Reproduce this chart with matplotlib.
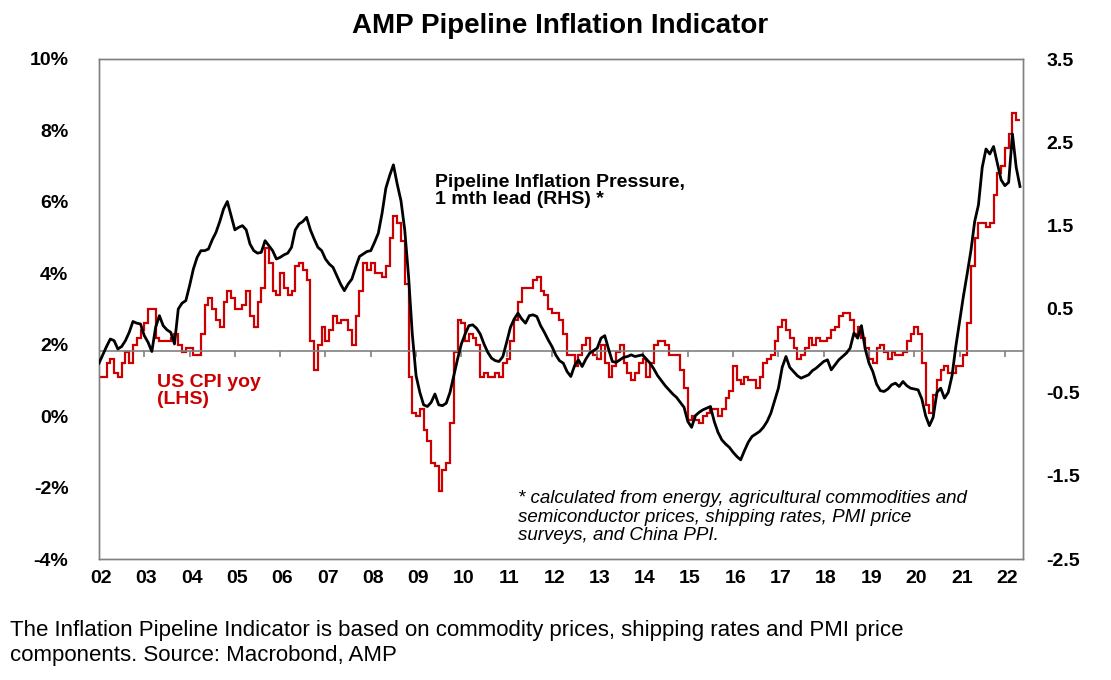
import matplotlib
matplotlib.use("Agg")
import matplotlib.pyplot as plt
import numpy as np

plt.rcParams['font.family'] = ['Liberation Sans', 'DejaVu Sans']

# ---------------- data ----------------
start_year = 2002
year_labels = ["02", "03", "04", "05", "06", "07", "08", "09", "10", "11", "12",
               "13", "14", "15", "16", "17", "18", "19", "20", "21", "22"]
left_ticks = [-4, -2, 0, 2, 4, 6, 8, 10]
left_tick_labels = ["-4%", "-2%", "0%", "2%", "4%", "6%", "8%", "10%"]
right_ticks = [-2.5, -1.5, -0.5, 0.5, 1.5, 2.5, 3.5]
right_tick_labels = ["-2.5", "-1.5", "-0.5", "0.5", "1.5", "2.5", "3.5"]

# US CPI yoy (%), monthly Jan 2002 - Apr 2022 (LHS)
us_cpi_yoy = [
    1.1, 1.1, 1.5, 1.6, 1.2, 1.1, 1.5, 1.8, 1.5, 2.0, 2.2, 2.4,   # 2002
    2.6, 3.0, 3.0, 2.2, 2.1, 2.1, 2.1, 2.2, 2.3, 2.0, 1.8, 1.9,   # 2003
    1.9, 1.7, 1.7, 2.3, 3.1, 3.3, 3.0, 2.7, 2.5, 3.2, 3.5, 3.3,   # 2004
    3.0, 3.0, 3.1, 3.5, 2.8, 2.5, 3.2, 3.6, 4.7, 4.3, 3.5, 3.4,   # 2005
    4.0, 3.6, 3.4, 3.5, 4.2, 4.3, 4.1, 3.8, 2.1, 1.3, 2.0, 2.5,   # 2006
    2.1, 2.4, 2.8, 2.6, 2.7, 2.7, 2.4, 2.0, 2.8, 3.5, 4.3, 4.1,   # 2007
    4.3, 4.0, 4.0, 3.9, 4.2, 5.0, 5.6, 5.4, 4.9, 3.7, 1.1, 0.1,   # 2008
    0.0, 0.2, -0.4, -0.7, -1.3, -1.4, -2.1, -1.5, -1.3, -0.2, 1.8, 2.7,  # 2009
    2.6, 2.1, 2.3, 2.2, 2.0, 1.1, 1.2, 1.1, 1.1, 1.2, 1.1, 1.5,   # 2010
    1.6, 2.1, 2.7, 3.2, 3.6, 3.6, 3.6, 3.8, 3.9, 3.5, 3.4, 3.0,   # 2011
    2.9, 2.9, 2.7, 2.3, 1.7, 1.7, 1.4, 1.7, 2.0, 2.2, 1.8, 1.7,   # 2012
    1.6, 2.0, 1.5, 1.1, 1.4, 1.8, 2.0, 1.5, 1.2, 1.0, 1.2, 1.5,   # 2013
    1.6, 1.1, 1.5, 2.0, 2.1, 2.1, 2.0, 1.7, 1.7, 1.7, 1.3, 0.8,   # 2014
    -0.1, 0.0, -0.1, -0.2, 0.0, 0.1, 0.2, 0.2, 0.0, 0.2, 0.5, 0.7,  # 2015
    1.4, 1.0, 0.9, 1.1, 1.0, 1.0, 0.8, 1.1, 1.5, 1.6, 1.7, 2.1,   # 2016
    2.5, 2.7, 2.4, 2.2, 1.9, 1.6, 1.7, 1.9, 2.2, 2.0, 2.2, 2.1,   # 2017
    2.1, 2.2, 2.4, 2.5, 2.8, 2.9, 2.9, 2.7, 2.3, 2.5, 2.2, 1.9,   # 2018
    1.6, 1.5, 1.9, 2.0, 1.8, 1.6, 1.8, 1.7, 1.7, 1.8, 2.1, 2.3,   # 2019
    2.5, 2.3, 1.5, 0.3, 0.1, 0.6, 1.0, 1.3, 1.4, 1.2, 1.2, 1.4,   # 2020
    1.4, 1.7, 2.6, 4.2, 5.0, 5.4, 5.4, 5.3, 5.4, 6.2, 6.8, 7.0,   # 2021
    7.5, 7.9, 8.5, 8.3,                                           # 2022
]

# Pipeline inflation pressure, 1 mth lead (RHS), monthly from Jan 2002
pipeline_pressure = [
    -0.15, -0.05, 0.05, 0.14, 0.12, 0.02, 0.05, 0.12, 0.22, 0.35, 0.33, 0.32,   # 2002
    0.18, 0.10, -0.01, 0.28, 0.42, 0.30, 0.25, 0.22, 0.08, 0.50, 0.57, 0.60,    # 2003
    0.78, 0.98, 1.12, 1.20, 1.20, 1.22, 1.33, 1.42, 1.55, 1.70, 1.79, 1.62,     # 2004
    1.45, 1.48, 1.50, 1.45, 1.28, 1.20, 1.17, 1.18, 1.32, 1.26, 1.20, 1.10,     # 2005
    1.12, 1.15, 1.17, 1.24, 1.45, 1.52, 1.55, 1.60, 1.45, 1.34, 1.24, 1.20,     # 2006
    1.10, 1.04, 1.00, 0.90, 0.80, 0.72, 0.80, 0.86, 1.00, 1.13, 1.16, 1.19,     # 2007
    1.20, 1.30, 1.41, 1.65, 1.95, 2.10, 2.23, 2.00, 1.80, 1.45, 0.90, 0.20,     # 2008
    -0.30, -0.50, -0.65, -0.67, -0.62, -0.52, -0.65, -0.66, -0.63, -0.50, -0.30, -0.10,  # 2009
    0.08, 0.20, 0.30, 0.31, 0.27, 0.20, 0.08, -0.02, -0.09, -0.12, -0.13, -0.07,  # 2010
    0.10, 0.28, 0.38, 0.45, 0.38, 0.33, 0.42, 0.43, 0.41, 0.30, 0.22, 0.13,     # 2011
    0.05, -0.05, -0.12, -0.15, -0.25, -0.31, -0.18, -0.11, -0.19, -0.10, -0.03, 0.00,  # 2012
    0.03, 0.15, 0.18, 0.02, -0.13, -0.14, -0.11, -0.08, -0.07, -0.05, -0.07, -0.06,  # 2013
    -0.05, -0.10, -0.15, -0.22, -0.30, -0.36, -0.42, -0.47, -0.52, -0.56, -0.62, -0.68,  # 2014
    -0.85, -0.92, -0.78, -0.74, -0.71, -0.69, -0.67, -0.85, -0.98, -1.07, -1.12, -1.16,  # 2015
    -1.22, -1.27, -1.31, -1.20, -1.10, -1.03, -1.00, -0.97, -0.92, -0.85, -0.75, -0.60,  # 2016
    -0.45, -0.20, -0.07, -0.20, -0.25, -0.30, -0.33, -0.31, -0.29, -0.24, -0.21, -0.17,  # 2017
    -0.13, -0.11, -0.23, -0.17, -0.11, -0.07, -0.03, 0.03, 0.21, 0.15, 0.30, 0.02,  # 2018
    -0.15, -0.25, -0.40, -0.48, -0.49, -0.46, -0.41, -0.39, -0.43, -0.37, -0.42, -0.45,  # 2019
    -0.46, -0.47, -0.58, -0.78, -0.90, -0.80, -0.50, -0.45, -0.57, -0.50, -0.30, 0.05,  # 2020
    0.35, 0.65, 0.92, 1.20, 1.55, 1.75, 2.20, 2.42, 2.36, 2.45, 2.25, 2.05,     # 2021
    1.98, 2.02, 2.60, 2.20, 1.97,                                               # 2022
]

# ---------------- figure ----------------
W, H = 1111, 680
fig = plt.figure(figsize=(W / 100, H / 100), dpi=100)
px_l, px_r, px_t, px_b = 99, 1023, 59, 559
ax = fig.add_axes([px_l / W, 1 - px_b / H, (px_r - px_l) / W, (px_b - px_t) / H])
ax2 = ax.twinx()

RED = "#CC0000"
GREY = "#808080"

cpi = np.array(us_cpi_yoy)
edges = start_year + np.arange(len(cpi) + 1) / 12.0
ax.stairs(cpi, edges, baseline=None, color=RED, linewidth=1.6, zorder=3)

pp = np.array(pipeline_pressure)
x_pp = start_year + np.arange(len(pp)) / 12.0
ax2.plot(x_pp, pp, color="black", linewidth=2.0, zorder=4)

# zero line of RHS with small year ticks
years = start_year + np.arange(len(year_labels))
ax2.axhline(0, color=GREY, linewidth=1.2, zorder=2)
ax2.vlines(years[1:], -0.08, 0, color=GREY, linewidth=1.2, zorder=2)

ax.set_xlim(start_year, 2022.4)
ax.set_ylim(-4, 10)
ax2.set_ylim(-2.5, 3.5)

ax.set_xticks(years + 0.05)
ax.set_xticklabels(year_labels, fontsize=14, fontweight="bold")
ax.set_yticks(left_ticks)
ax.set_yticklabels(left_tick_labels, fontsize=14, fontweight="bold")
ax2.set_yticks(right_ticks)
ax2.set_yticklabels(right_tick_labels, fontsize=14, fontweight="bold")

ax.tick_params(axis="x", length=0, pad=8)
ax.tick_params(axis="y", length=0, pad=22)
ax2.tick_params(axis="y", length=0, pad=17)

for a in (ax, ax2):
    for s in a.spines.values():
        s.set_color(GREY)
        s.set_linewidth(1.0)

# ---------------- texts ----------------
def fx(x):
    return x / W

def fy(y):
    return 1 - y / H

fig.text(fx(560), fy(26), "AMP Pipeline Inflation Indicator", ha="center", va="center",
         fontsize=20, fontweight="bold")

fig.text(fx(435), fy(191), "Pipeline Inflation Pressure,\n1 mth lead (RHS) *", ha="left",
         va="center", fontsize=14, fontweight="bold", linespacing=1.05)

fig.text(fx(157), fy(391), "US CPI yoy\n(LHS)", ha="left", va="center",
         fontsize=14, fontweight="bold", color=RED, linespacing=1.05)

fig.text(fx(518), fy(517),
         "* calculated from energy, agricultural commodities and\n"
         "semiconductor prices, shipping rates, PMI price\n"
         "surveys, and China PPI.",
         ha="left", va="center", fontsize=13.5, fontstyle="italic", linespacing=1.12)

fig.text(fx(10), fy(643),
         "The Inflation Pipeline Indicator is based on commodity prices, shipping rates and PMI price\n"
         "components. Source: Macrobond, AMP",
         ha="left", va="center", fontsize=16, linespacing=1.22)

fig.savefig("out.png", dpi=100)
